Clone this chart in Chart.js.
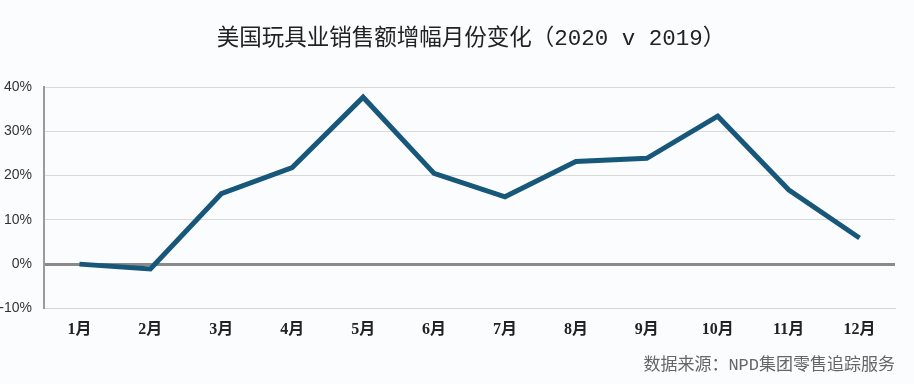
<!DOCTYPE html>
<html>
<head>
<meta charset="utf-8">
<script src="https://cdn.jsdelivr.net/npm/chart.js@4"></script>
<style>
html,body{margin:0;padding:0;background:#fbfcfd;}
#wrap{width:914px;height:384px;position:relative;}
</style>
</head>
<body>
<div id="wrap"><canvas id="c" width="914" height="384"></canvas></div>
<script>
const categories = ['1月','2月','3月','4月','5月','6月','7月','8月','9月','10月','11月','12月'];
const growthPct = [0, -1.1, 15.9, 21.8, 37.7, 20.5, 15.2, 23.2, 23.9, 33.4, 16.8, 5.9];
const yTicks = [-10, 0, 10, 20, 30, 40];
const titleText = '美国玩具业销售额增幅月份变化（2020 v 2019）';
const sourceText = '数据来源：NPD集团零售追踪服务';

const titlePlugin = {
  id: 'centerTitle',
  afterDraw(chart) {
    const ctx = chart.ctx;
    ctx.save();
    ctx.font = "normal 22.5px 'Liberation Mono','Noto Sans CJK SC'";
    ctx.fillStyle = '#222';
    ctx.textAlign = 'center';
    ctx.textBaseline = 'middle';
    ctx.fillText(titleText, 471, 39);
    ctx.restore();
  }
};

new Chart(document.getElementById('c'), {
  type: 'line',
  data: {
    labels: categories,
    datasets: [{
      data: growthPct,
      borderColor: '#17587a',
      borderWidth: 5,
      pointRadius: 0,
      tension: 0,
      fill: false,
      borderJoinStyle: 'miter'
    }]
  },
  options: {
    responsive: false,
    animation: false,
    layout: { padding: { left: 0, right: 19, top: 87, bottom: 8 } },
    plugins: {
      legend: { display: false },
      tooltip: { enabled: false },
      title: { display: false },
      subtitle: {
        display: true,
        position: 'bottom',
        align: 'end',
        text: sourceText,
        color: '#666',
        font: { family: "'Liberation Mono','Noto Sans CJK SC'", size: 17, weight: 'normal' },
        padding: { top: 4, bottom: 0 }
      }
    },
    scales: {
      x: {
        type: 'category',
        offset: true,
        grid: { display: false, drawTicks: false },
        border: { display: true, color: '#d6d6d6', width: 1 },
        ticks: {
          color: '#222',
          padding: 12,
          font: { family: "'Liberation Serif','Noto Sans CJK SC'", size: 16, weight: 'bold' },
          maxRotation: 0
        }
      },
      y: {
        min: -10,
        max: 40,
        afterBuildTicks: (s) => { s.ticks = yTicks.map(v => ({ value: v })); },
        afterFit: (s) => { s.width = 44; },
        grid: {
          drawTicks: false,
          color: (ctx) => ctx.tick && ctx.tick.value === 0 ? '#8a8a8a' : '#d9d9d9',
          lineWidth: (ctx) => ctx.tick && ctx.tick.value === 0 ? 3 : 1
        },
        border: { display: true, color: '#9a9a9a', width: 2 },
        ticks: {
          color: '#333',
          padding: 12,
          font: { family: "'Liberation Sans'", size: 14 },
          callback: (v) => v + '%'
        }
      }
    }
  },
  plugins: [titlePlugin]
});
</script>
</body>
</html>
